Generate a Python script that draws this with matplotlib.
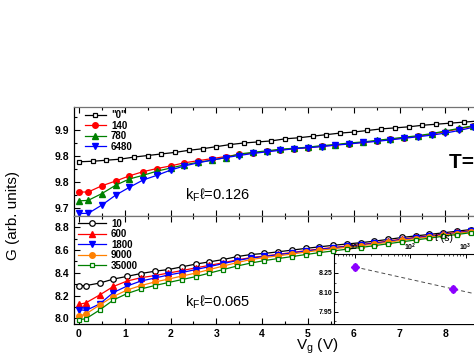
import numpy as np
import matplotlib
matplotlib.use('Agg')
from matplotlib import pyplot as plt
from matplotlib.ticker import AutoMinorLocator, FixedLocator, LogLocator, NullFormatter

plt.rcParams['font.family'] = ['Liberation Sans', 'DejaVu Sans']

# gate voltage grids (V)
vg_top0 = [0.0, 0.3, 0.6, 0.9, 1.2, 1.5, 1.8, 2.1, 2.4, 2.7, 3.0, 3.3, 3.6, 3.9, 4.2,
           4.5, 4.8, 5.1, 5.4, 5.7, 6.0, 6.3, 6.6, 6.9, 7.2, 7.5, 7.8, 8.1, 8.4, 8.7, 9.0]
vg_top = [0.0, 0.2, 0.5, 0.8, 1.1, 1.4, 1.7, 2.0, 2.3, 2.6, 2.9, 3.2, 3.5, 3.8, 4.1,
          4.4, 4.7, 5.0, 5.3, 5.6, 5.9, 6.2, 6.5, 6.8, 7.1, 7.4, 7.7, 8.0, 8.3, 8.6, 8.9]
vg_bot = [0.0, 0.15, 0.45, 0.75, 1.05, 1.35, 1.65, 1.95, 2.25, 2.55, 2.85, 3.15, 3.45,
          3.75, 4.05, 4.35, 4.65, 4.95, 5.25, 5.55, 5.85, 6.15, 6.45, 6.75, 7.05, 7.35,
          7.65, 7.95, 8.25, 8.55, 8.85]

# top panel, kF*l = 0.126
g_0 = [9.839, 9.840, 9.842, 9.844, 9.848, 9.851, 9.854, 9.857, 9.861, 9.864, 9.868,
       9.872, 9.875, 9.877, 9.879, 9.883, 9.885, 9.888, 9.891, 9.894, 9.896, 9.899,
       9.902, 9.904, 9.906, 9.909, 9.911, 9.913, 9.915, 9.917, 9.919]
g_140 = [9.781, 9.781, 9.793, 9.802, 9.812, 9.820, 9.826, 9.831, 9.837, 9.841, 9.845,
         9.849, 9.853, 9.856, 9.859, 9.862, 9.864, 9.866, 9.869, 9.871, 9.874, 9.876,
         9.879, 9.882, 9.885, 9.888, 9.892, 9.897, 9.902, 9.907, 9.911]
g_780 = [9.764, 9.765, 9.778, 9.794, 9.806, 9.813, 9.821, 9.827, 9.833, 9.838, 9.842,
         9.847, 9.854, 9.857, 9.860, 9.863, 9.865, 9.867, 9.870, 9.872, 9.875, 9.877,
         9.880, 9.883, 9.886, 9.889, 9.893, 9.898, 9.903, 9.908, 9.912]
g_6480 = [9.740, 9.740, 9.756, 9.775, 9.790, 9.804, 9.813, 9.823, 9.831, 9.837, 9.842,
          9.847, 9.851, 9.855, 9.858, 9.861, 9.864, 9.866, 9.868, 9.871, 9.873, 9.876,
          9.878, 9.881, 9.884, 9.887, 9.890, 9.894, 9.899, 9.905, 9.912]

# bottom panel, kF*l = 0.065
g_10 = [8.287, 8.288, 8.310, 8.345, 8.369, 8.394, 8.414, 8.429, 8.453, 8.477, 8.497,
        8.517, 8.543, 8.561, 8.571, 8.585, 8.600, 8.615, 8.629, 8.642, 8.654, 8.665,
        8.679, 8.694, 8.711, 8.725, 8.738, 8.752, 8.766, 8.781, 8.794]
g_600 = [8.123, 8.136, 8.205, 8.280, 8.328, 8.357, 8.376, 8.398, 8.420, 8.444, 8.466,
         8.489, 8.514, 8.534, 8.548, 8.563, 8.579, 8.595, 8.610, 8.623, 8.636, 8.649,
         8.664, 8.679, 8.697, 8.712, 8.726, 8.741, 8.755, 8.771, 8.785]
g_1800 = [8.077, 8.069, 8.126, 8.227, 8.284, 8.328, 8.354, 8.381, 8.403, 8.429, 8.455,
          8.482, 8.508, 8.530, 8.544, 8.559, 8.575, 8.591, 8.606, 8.619, 8.632, 8.645,
          8.660, 8.675, 8.693, 8.708, 8.722, 8.737, 8.751, 8.767, 8.781]
g_9000 = [8.020, 8.038, 8.117, 8.192, 8.249, 8.288, 8.319, 8.345, 8.372, 8.398, 8.429,
          8.460, 8.490, 8.517, 8.534, 8.550, 8.566, 8.583, 8.598, 8.612, 8.625, 8.638,
          8.653, 8.669, 8.687, 8.701, 8.716, 8.732, 8.746, 8.762, 8.776]
g_35000 = [7.989, 7.996, 8.073, 8.161, 8.218, 8.258, 8.288, 8.315, 8.341, 8.367, 8.398,
           8.429, 8.460, 8.486, 8.508, 8.526, 8.543, 8.561, 8.578, 8.593, 8.608, 8.623,
           8.639, 8.656, 8.673, 8.689, 8.705, 8.722, 8.737, 8.753, 8.767]

# inset: G at Vg=0 vs waiting time
t_s = [10, 600]
g_t = [8.297, 8.126]
g_t_err = [0.025, 0.02]
fit_t = [10, 600, 2000]
fit_g = [8.297, 8.126, 8.076]

top_ticks = [9.75, 9.80, 9.85, 9.90]
top_ticklabels = ['9.7', '9.8', '9.8', '9.9']
bot_ticks = [8.0, 8.2, 8.4, 8.6, 8.8]
bot_ticklabels = ['8.0', '8.2', '8.4', '8.6', '8.8']
inset_ticks = [7.95, 8.10, 8.25]
inset_ticklabels = ['7.95', '8.10', '8.25']

fig = plt.figure(figsize=(4.74, 3.54), dpi=100)
ax1 = fig.add_axes([0.156, 0.3898, 1.025, 0.3079])
ax2 = fig.add_axes([0.156, 0.0847, 1.025, 0.3051])

kw = dict(lw=0.9, ms=4)
ax1.plot(vg_top0, g_0, '-s', color='black', mfc='white', mew=0.9, ms=3.5, lw=0.9, label='"0"')
ax1.plot(vg_top, g_140, '-o', color='red', label='140', **kw)
ax1.plot(vg_top, g_780, '-^', color='green', label='780', **kw)
ax1.plot(vg_top, g_6480, '-v', color='blue', label='6480', **kw)

ax2.plot(vg_bot, g_10, '-o', color='black', mfc='white', mew=0.9, ms=4, lw=0.9, label='10')
ax2.plot(vg_bot, g_600, '-^', color='red', label='600', **kw)
ax2.plot(vg_bot, g_1800, '-v', color='blue', label='1800', **kw)
ax2.plot(vg_bot, g_9000, '-o', color='#ff8000', label='9000', **kw)
ax2.plot(vg_bot, g_35000, '-s', color='green', mfc='white', mew=0.9, ms=3.5, lw=0.9, label='35000')

for ax in (ax1, ax2):
    ax.set_xlim(-0.11, 10.5)
    ax.xaxis.set_major_locator(FixedLocator(range(0, 11)))
    ax.xaxis.set_minor_locator(AutoMinorLocator(2))
    ax.yaxis.set_minor_locator(AutoMinorLocator(2))
    ax.tick_params(which='both', direction='in', top=True, right=True)
    ax.tick_params(which='major', length=4, width=0.8, labelsize=7.5)
    ax.tick_params(which='minor', length=2, width=0.8)
    for lab in ax.get_xticklabels() + ax.get_yticklabels():
        lab.set_fontweight('bold')
    for s in ax.spines.values():
        s.set_linewidth(0.9)

ax1.set_ylim(9.735, 9.944)
ax1.set_yticks(top_ticks)
ax1.set_yticklabels(top_ticklabels, fontweight='bold')
ax1.tick_params(labelbottom=False)
ax1.spines['top'].set_color('0.45')
ax1.spines['bottom'].set_color('0.45')

ax2.set_ylim(7.95, 8.90)
ax2.set_yticks(bot_ticks)
ax2.set_yticklabels(bot_ticklabels, fontweight='bold')
ax2.spines['top'].set_color('0.45')
ax2.set_xlabel('V$_\\mathregular{g}$ (V)', fontsize=11, labelpad=-2)

ax1.legend(loc='upper left', bbox_to_anchor=(0.022, 0.97), frameon=False,
           prop={'weight': 'bold', 'size': 7}, numpoints=1, handlelength=2.2,
           handletextpad=0.5, labelspacing=0.05, borderpad=0, borderaxespad=0)
ax2.legend(loc='upper left', bbox_to_anchor=(0.008, 0.975), frameon=False,
           prop={'weight': 'bold', 'size': 7}, numpoints=1, handlelength=2.9,
           handletextpad=0.5, labelspacing=0.05, borderpad=0, borderaxespad=0)

ax1.text(0.228, 0.19, 'k$_\\mathregular{F}$\u2113=0.126', transform=ax1.transAxes, fontsize=10.5,
         va='center', family=['Liberation Sans', 'DejaVu Sans'])
ax2.text(0.228, 0.20, 'k$_\\mathregular{F}$\u2113=0.065', transform=ax2.transAxes, fontsize=10.5,
         va='center', family=['Liberation Sans', 'DejaVu Sans'])
ax1.text(0.772, 0.49, 'T=4.2 K', transform=ax1.transAxes, fontsize=15, fontweight='bold',
         va='center')

fig.text(0.028, 0.39, 'G (arb. units)', rotation=90, fontsize=11, ha='center', va='center')

# inset
axi = fig.add_axes([0.7046, 0.0847, 0.464, 0.198])
axi.set_xscale('log')
axi.errorbar(t_s, g_t, yerr=g_t_err, fmt='D', color='#8b00ff', ms=4, capsize=1.5,
             elinewidth=1, zorder=3)
axi.plot(fit_t, fit_g, '--', color='0.3', lw=0.7, dashes=(4, 3))
axi.set_xlim(4.2, 39500)
axi.set_ylim(7.854, 8.398)
axi.set_yticks(inset_ticks)
axi.set_yticklabels(inset_ticklabels, fontweight='bold', fontsize=5)
axi.yaxis.set_minor_locator(AutoMinorLocator(2))
axi.xaxis.tick_top()
axi.xaxis.set_label_position('top')
axi.xaxis.set_major_locator(LogLocator(base=10, numticks=10))
axi.xaxis.set_minor_formatter(NullFormatter())
axi.tick_params(which='both', direction='in', top=True, bottom=False, right=True,
                labelsize=5, pad=1)
axi.tick_params(which='major', length=3, width=0.7)
axi.tick_params(which='minor', length=1.5, width=0.5)
for lab in axi.get_xticklabels():
    lab.set_fontweight('bold')
axi.set_xlabel('t (s)', fontsize=7.5, labelpad=0)
axi.spines['bottom'].set_visible(False)
for s in axi.spines.values():
    s.set_linewidth(0.8)

fig.savefig('out.png', dpi=100)
